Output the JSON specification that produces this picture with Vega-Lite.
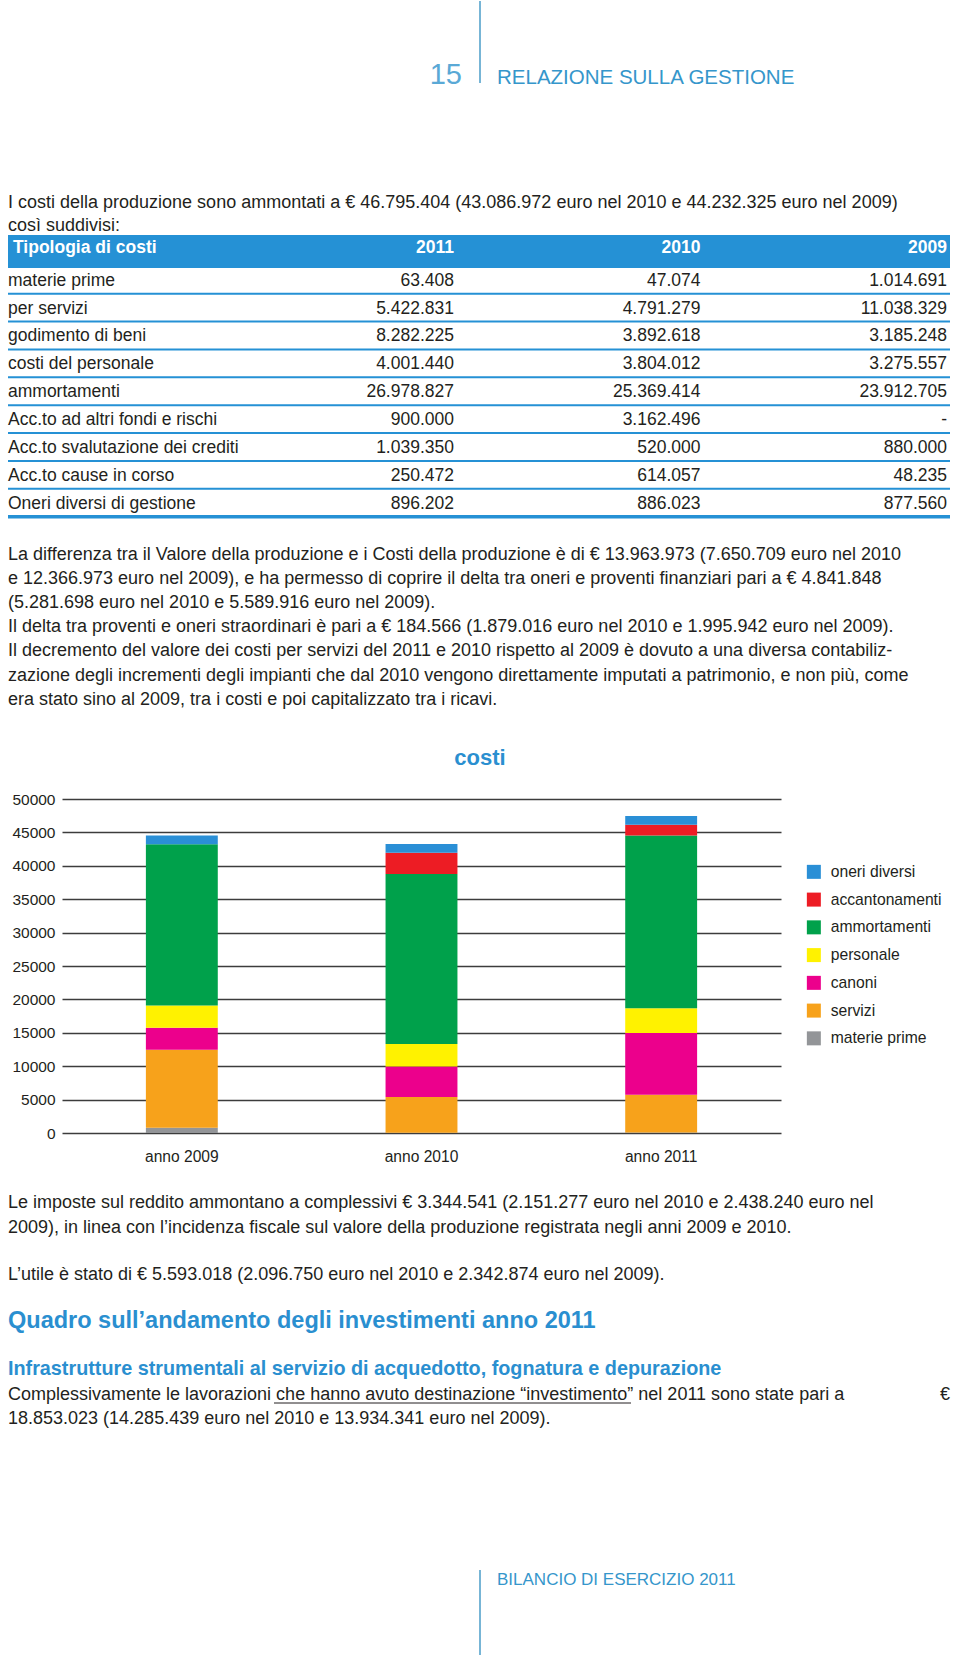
{
  "$schema": "https://vega.github.io/schema/vega-lite/v6.json",
  "background": "white",
  "padding": 0,
  "config": {"view": {"stroke": null}, "font": "Liberation Sans"},
  "datasets": {
    "tabella": [
      {"voce": "materie prime", "anno": "2011", "importo": "63.408"},
      {"voce": "materie prime", "anno": "2010", "importo": "47.074"},
      {"voce": "materie prime", "anno": "2009", "importo": "1.014.691"},
      {"voce": "per servizi", "anno": "2011", "importo": "5.422.831"},
      {"voce": "per servizi", "anno": "2010", "importo": "4.791.279"},
      {"voce": "per servizi", "anno": "2009", "importo": "11.038.329"},
      {"voce": "godimento di beni", "anno": "2011", "importo": "8.282.225"},
      {"voce": "godimento di beni", "anno": "2010", "importo": "3.892.618"},
      {"voce": "godimento di beni", "anno": "2009", "importo": "3.185.248"},
      {"voce": "costi del personale", "anno": "2011", "importo": "4.001.440"},
      {"voce": "costi del personale", "anno": "2010", "importo": "3.804.012"},
      {"voce": "costi del personale", "anno": "2009", "importo": "3.275.557"},
      {"voce": "ammortamenti", "anno": "2011", "importo": "26.978.827"},
      {"voce": "ammortamenti", "anno": "2010", "importo": "25.369.414"},
      {"voce": "ammortamenti", "anno": "2009", "importo": "23.912.705"},
      {"voce": "Acc.to ad altri fondi e rischi", "anno": "2011", "importo": "900.000"},
      {"voce": "Acc.to ad altri fondi e rischi", "anno": "2010", "importo": "3.162.496"},
      {"voce": "Acc.to ad altri fondi e rischi", "anno": "2009", "importo": "-"},
      {"voce": "Acc.to svalutazione dei crediti", "anno": "2011", "importo": "1.039.350"},
      {"voce": "Acc.to svalutazione dei crediti", "anno": "2010", "importo": "520.000"},
      {"voce": "Acc.to svalutazione dei crediti", "anno": "2009", "importo": "880.000"},
      {"voce": "Acc.to cause in corso", "anno": "2011", "importo": "250.472"},
      {"voce": "Acc.to cause in corso", "anno": "2010", "importo": "614.057"},
      {"voce": "Acc.to cause in corso", "anno": "2009", "importo": "48.235"},
      {"voce": "Oneri diversi di gestione", "anno": "2011", "importo": "896.202"},
      {"voce": "Oneri diversi di gestione", "anno": "2010", "importo": "886.023"},
      {"voce": "Oneri diversi di gestione", "anno": "2009", "importo": "877.560"}
    ],
    "intestazione": [{"anno": "2011"}, {"anno": "2010"}, {"anno": "2009"}],
    "costi": [
      {"anno": "anno 2009", "voce": "materie prime", "ordine": 1, "valore": 800},
      {"anno": "anno 2009", "voce": "servizi", "ordine": 2, "valore": 11660},
      {"anno": "anno 2009", "voce": "canoni", "ordine": 3, "valore": 3290},
      {"anno": "anno 2009", "voce": "personale", "ordine": 4, "valore": 3340},
      {"anno": "anno 2009", "voce": "ammortamenti", "ordine": 5, "valore": 24130},
      {"anno": "anno 2009", "voce": "accantonamenti", "ordine": 6, "valore": 0},
      {"anno": "anno 2009", "voce": "oneri diversi", "ordine": 7, "valore": 1300},
      {"anno": "anno 2010", "voce": "materie prime", "ordine": 1, "valore": 50},
      {"anno": "anno 2010", "voce": "servizi", "ordine": 2, "valore": 5330},
      {"anno": "anno 2010", "voce": "canoni", "ordine": 3, "valore": 4590},
      {"anno": "anno 2010", "voce": "personale", "ordine": 4, "valore": 3340},
      {"anno": "anno 2010", "voce": "ammortamenti", "ordine": 5, "valore": 25470},
      {"anno": "anno 2010", "voce": "accantonamenti", "ordine": 6, "valore": 3190},
      {"anno": "anno 2010", "voce": "oneri diversi", "ordine": 7, "valore": 1300},
      {"anno": "anno 2011", "voce": "materie prime", "ordine": 1, "valore": 60},
      {"anno": "anno 2011", "voce": "servizi", "ordine": 2, "valore": 5670},
      {"anno": "anno 2011", "voce": "canoni", "ordine": 3, "valore": 9230},
      {"anno": "anno 2011", "voce": "personale", "ordine": 4, "valore": 3730},
      {"anno": "anno 2011", "voce": "ammortamenti", "ordine": 5, "valore": 25830},
      {"anno": "anno 2011", "voce": "accantonamenti", "ordine": 6, "valore": 1640},
      {"anno": "anno 2011", "voce": "oneri diversi", "ordine": 7, "valore": 1300}
    ]
  },
  "columns": 1,
  "spacing": 0,
  "bounds": "full",
  "resolve": {"scale": {"color": "independent"}, "legend": {"color": "independent"}},
  "concat": [
    {
      "width": 898,
      "height": 190,
      "data": {"values": [{}]},
      "layer": [
        {"mark": {"type": "rule", "stroke": "#4a9cc8", "strokeWidth": 1.5}, "encoding": {"x": {"value": 418}, "y": {"value": 0}, "y2": {"value": 82}}},
        {"mark": {"type": "text", "text": "15", "x": 400, "y": 83, "align": "right", "baseline": "alphabetic", "fontSize": 29, "color": "#5aa9d6"}},
        {"mark": {"type": "text", "text": "RELAZIONE SULLA GESTIONE", "x": 435, "y": 83, "align": "left", "baseline": "alphabetic", "fontSize": 20.5, "color": "#3596cb"}}
      ]
    },
    {
      "width": 898,
      "height": 340,
      "layer": [
        {
          "data": {"values": [{}]},
          "mark": {"type": "text", "text": ["I costi della produzione sono ammontati a € 46.795.404 (43.086.972 euro nel 2010 e 44.232.325 euro nel 2009)", "così suddivisi:"], "x": -54, "y": 17, "align": "left", "baseline": "alphabetic", "lineHeight": 23, "fontSize": 18, "color": "#231f20"}
        },
        {
          "data": {"values": [{}]},
          "mark": {"type": "rect", "x": -54, "x2": 888, "y": 44, "y2": 77, "color": "#2591d5"},
          "encoding": {}
        },
        {
          "data": {"values": [{}]},
          "mark": {"type": "text", "text": "Tipologia di costi", "x": -49, "y": 57, "align": "left", "baseline": "middle", "fontSize": 17.5, "fontWeight": "bold", "color": "white"}
        },
        {
          "data": {"name": "intestazione"},
          "mark": {"type": "text", "y": 57, "align": "right", "baseline": "middle", "fontSize": 17.5, "fontWeight": "bold", "color": "white"},
          "encoding": {
            "x": {"field": "anno", "type": "ordinal", "scale": {"type": "point", "domain": ["2011", "2010", "2009"], "range": [392, 885], "padding": 0}, "axis": null},
            "text": {"field": "anno"}
          }
        },
        {
          "data": {"name": "tabella"},
          "transform": [{"filter": "datum.anno == '2011'"}],
          "mark": {"type": "text", "x": -54, "align": "left", "baseline": "middle", "fontSize": 17.5, "color": "#231f20", "dy": 1},
          "encoding": {
            "y": {"field": "voce", "type": "nominal", "sort": null, "scale": {"type": "band", "domain": ["materie prime", "per servizi", "godimento di beni", "costi del personale", "ammortamenti", "Acc.to ad altri fondi e rischi", "Acc.to svalutazione dei crediti", "Acc.to cause in corso", "Oneri diversi di gestione"], "range": [74.8, 325.7], "paddingInner": 0, "paddingOuter": 0}, "axis": null},
            "text": {"field": "voce"}
          }
        },
        {
          "data": {"name": "tabella"},
          "mark": {"type": "text", "align": "right", "baseline": "middle", "fontSize": 17.5, "color": "#231f20", "dy": 1},
          "encoding": {
            "x": {"field": "anno", "type": "ordinal"},
            "y": {"field": "voce", "type": "nominal"},
            "text": {"field": "importo"}
          }
        },
        {
          "data": {"name": "tabella"},
          "transform": [{"filter": "datum.anno == '2011'"}],
          "mark": {"type": "rule", "x": -54, "x2": 888, "stroke": "#2591d5", "strokeWidth": 2},
          "encoding": {"y": {"field": "voce", "type": "nominal", "bandPosition": 1}}
        },
        {
          "data": {"name": "tabella"},
          "transform": [{"filter": "datum.anno == '2011' && datum.voce == 'Oneri diversi di gestione'"}],
          "mark": {"type": "rule", "x": -54, "x2": 888, "stroke": "#2591d5", "strokeWidth": 3.5},
          "encoding": {"y": {"field": "voce", "type": "nominal", "bandPosition": 1}}
        }
      ]
    },
    {
      "width": 898,
      "height": 216,
      "data": {"values": [{}]},
      "mark": {"type": "text", "text": [
        "La differenza tra il Valore della produzione e i Costi della produzione è di € 13.963.973 (7.650.709 euro nel 2010",
        "e 12.366.973 euro nel 2009), e ha permesso di coprire il delta tra oneri e proventi finanziari pari a € 4.841.848",
        "(5.281.698 euro nel 2010 e 5.589.916 euro nel 2009).",
        "Il delta tra proventi e oneri straordinari è pari a € 184.566 (1.879.016 euro nel 2010 e 1.995.942 euro nel 2009).",
        "Il decremento del valore dei costi per servizi del 2011 e 2010 rispetto al 2009 è dovuto a una diversa contabiliz-",
        "zazione degli incrementi degli impianti che dal 2010 vengono direttamente imputati a patrimonio, e non più, come",
        "era stato sino al 2009, tra i costi e poi capitalizzato tra i ricavi."
      ], "x": -54, "y": 28.5, "align": "left", "baseline": "alphabetic", "lineHeight": 24.2, "fontSize": 18, "color": "#231f20"}
    },
    {
      "width": 719,
      "height": 334,
      "data": {"name": "costi"},
      "title": {"text": "costi", "anchor": "middle", "frame": "group", "dx": 58.5, "offset": 5, "baseline": "alphabetic", "fontSize": 22, "fontWeight": "bold", "color": "#2a8fd0", "font": "Liberation Sans"},
      "mark": {"type": "bar"},
      "encoding": {
        "x": {"field": "anno", "type": "nominal", "sort": ["anno 2009", "anno 2010", "anno 2011"], "scale": {"paddingInner": 0.7, "paddingOuter": 0.35},
              "axis": {"title": null, "domain": false, "ticks": false, "labelAngle": 0, "labelPadding": 16, "labelFontSize": 15.6, "labelColor": "#231f20", "labelFont": "Liberation Sans"}},
        "y": {"field": "valore", "type": "quantitative", "stack": "zero", "scale": {"domain": [0, 50000], "nice": false},
              "axis": {"title": null, "values": [0, 5000, 10000, 15000, 20000, 25000, 30000, 35000, 40000, 45000, 50000], "format": "d", "grid": true, "gridColor": "#3c3c3c", "gridWidth": 1.3, "domain": false, "ticks": false, "labelPadding": 7, "labelFontSize": 15.5, "labelColor": "#231f20", "labelFont": "Liberation Sans", "minExtent": 62}},
        "color": {"field": "voce", "type": "nominal",
                  "scale": {"domain": ["oneri diversi", "accantonamenti", "ammortamenti", "personale", "canoni", "servizi", "materie prime"],
                            "range": ["#2a8fd6", "#ed1c24", "#00a14b", "#fff200", "#ec008c", "#f7a21b", "#939598"]},
                  "legend": {"title": null, "orient": "none", "legendX": 744, "legendY": 65, "symbolType": "square", "symbolSize": 196, "symbolStrokeWidth": 0, "symbolOpacity": 1, "labelFontSize": 15.7, "labelColor": "#231f20", "labelFont": "Liberation Sans", "labelOffset": 9, "rowPadding": 10.75, "padding": 0}},
        "order": {"field": "ordine", "type": "quantitative", "sort": "ascending"}
      }
    },
    {
      "width": 898,
      "height": 490,
      "data": {"values": [{}]},
      "layer": [
        {"mark": {"type": "text", "text": ["Le imposte sul reddito ammontano a complessivi € 3.344.541 (2.151.277 euro nel 2010 e 2.438.240 euro nel", "2009), in linea con l’incidenza fiscale sul valore della produzione registrata negli anni 2009 e 2010."], "x": -54, "y": 43, "align": "left", "baseline": "alphabetic", "lineHeight": 25, "fontSize": 18, "color": "#231f20"}},
        {"mark": {"type": "text", "text": "L’utile è stato di  € 5.593.018 (2.096.750 euro nel 2010 e 2.342.874 euro nel 2009).", "x": -54, "y": 115, "align": "left", "baseline": "alphabetic", "fontSize": 18, "color": "#231f20"}},
        {"mark": {"type": "text", "text": "Quadro sull’andamento degli investimenti anno 2011", "x": -54, "y": 163, "align": "left", "baseline": "alphabetic", "fontSize": 23.5, "fontWeight": "bold", "color": "#2a8fd0"}},
        {"mark": {"type": "text", "text": "Infrastrutture strumentali al servizio di acquedotto, fognatura e depurazione", "x": -54, "y": 210, "align": "left", "baseline": "alphabetic", "fontSize": 19.8, "fontWeight": "bold", "color": "#2a8fd0"}},
        {"mark": {"type": "text", "text": ["Complessivamente le lavorazioni che hanno avuto destinazione “investimento” nel 2011 sono state pari a", "18.853.023 (14.285.439 euro nel 2010 e 13.934.341 euro nel 2009)."], "x": -54, "y": 235, "align": "left", "baseline": "alphabetic", "lineHeight": 24, "fontSize": 18, "color": "#231f20"}},
        {"mark": {"type": "rule", "stroke": "#231f20", "strokeWidth": 1}, "encoding": {"x": {"value": 212}, "x2": {"value": 569}, "y": {"value": 238}}},
        {"mark": {"type": "text", "text": "€", "x": 888, "y": 235, "align": "right", "baseline": "alphabetic", "fontSize": 18, "color": "#231f20"}},
        {"mark": {"type": "rule", "stroke": "#4a9cc8", "strokeWidth": 1.5}, "encoding": {"x": {"value": 418}, "y": {"value": 405}, "y2": {"value": 490}}},
        {"mark": {"type": "text", "text": "BILANCIO DI ESERCIZIO 2011", "x": 435, "y": 420, "align": "left", "baseline": "alphabetic", "fontSize": 17, "color": "#3596cb"}}
      ]
    }
  ]
}
